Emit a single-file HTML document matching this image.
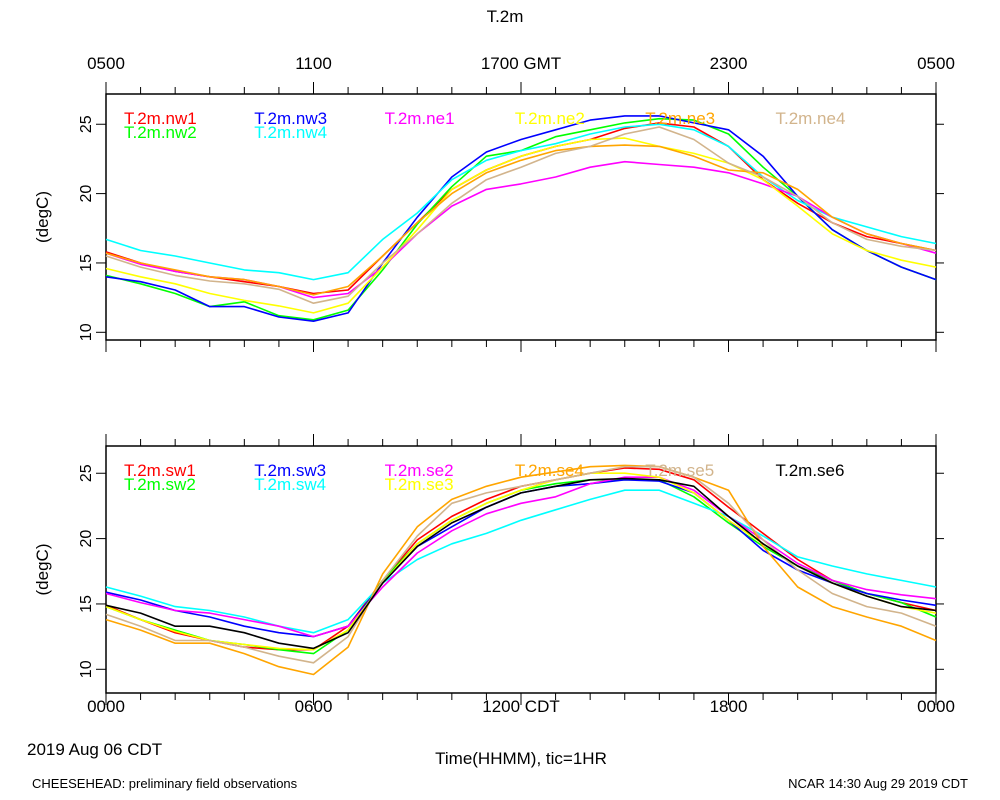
<!DOCTYPE html>
<html><head><meta charset="utf-8"><style>
body{margin:0;background:#fff;}
svg{display:block;font-family:"Liberation Sans",sans-serif;}
</style></head><body>
<svg id="chart" width="1000" height="800"></svg>
<script>
const hours=[0,1,2,3,4,5,6,7,8,9,10,11,12,13,14,15,16,17,18,19,20,21,22,23,24];
const topNames=["T.2m.nw1","T.2m.nw2","T.2m.nw3","T.2m.nw4","T.2m.ne1","T.2m.ne2","T.2m.ne3","T.2m.ne4"];
const nw1=[15.8,15.0,14.4,14.0,13.65,13.3,12.8,13.05,15.5,17.9,20.3,21.7,22.7,23.4,23.9,24.7,25.1,24.8,23.4,21.0,19.3,17.9,16.9,16.4,15.9];
const nw2=[14.1,13.5,12.8,11.85,12.2,11.2,10.9,11.6,14.5,17.8,20.5,22.7,23.1,24.1,24.6,25.1,25.4,25.3,24.3,21.9,19.8,17.4,15.9,14.7,13.8];
const nw3=[14.0,13.65,13.05,11.85,11.85,11.1,10.8,11.4,15.0,18.3,21.2,23.0,23.9,24.6,25.3,25.6,25.6,25.1,24.6,22.7,19.8,17.4,15.9,14.7,13.8];
const nw4=[16.7,15.9,15.5,15.0,14.5,14.3,13.8,14.3,16.7,18.6,21.0,22.4,23.1,23.6,24.3,24.8,25.0,24.6,23.4,21.2,19.5,18.3,17.6,16.9,16.4];
const ne1=[15.7,14.9,14.4,14.0,13.8,13.3,12.5,12.8,14.7,17.1,19.1,20.3,20.7,21.2,21.9,22.3,22.1,21.9,21.5,20.7,19.8,18.3,17.1,16.4,15.7];
const ne2=[14.6,14.0,13.5,12.8,12.3,11.9,11.4,12.1,14.7,17.4,20.3,21.7,22.7,23.4,23.9,24.0,23.4,22.9,22.2,21.0,19.1,17.1,15.9,15.2,14.7];
const ne3=[15.7,15.0,14.5,14.0,13.8,13.3,12.7,13.3,15.5,17.9,20.0,21.5,22.4,23.1,23.4,23.5,23.4,22.7,21.7,21.5,20.3,18.3,17.1,16.4,15.9];
const ne4=[15.5,14.7,14.1,13.7,13.5,13.1,12.1,12.6,15.0,17.1,19.3,21.0,21.9,22.9,23.4,24.3,24.8,23.9,22.2,21.2,19.8,17.9,16.7,16.2,15.9];
const botNames=["T.2m.sw1","T.2m.sw2","T.2m.sw3","T.2m.sw4","T.2m.se2","T.2m.se3","T.2m.se4","T.2m.se5","T.2m.se6"];
const sw1=[14.9,13.8,12.8,12.2,11.7,11.5,11.5,13.3,16.8,19.9,21.7,23.0,24.0,24.5,25.0,25.4,25.3,24.5,22.4,20.4,18.4,16.8,15.8,15.1,14.5];
const sw2=[14.8,13.8,13.0,12.2,11.9,11.5,11.2,13.0,16.8,19.6,21.4,22.7,23.7,24.2,24.5,24.5,24.5,23.2,21.2,19.4,17.9,16.8,15.8,15.1,14.0];
const sw3=[15.9,15.3,14.5,14.0,13.3,12.8,12.5,13.3,16.6,19.4,20.9,22.4,23.5,24.0,24.2,24.5,24.4,23.5,21.4,19.1,17.6,16.6,15.8,15.3,14.9];
const sw4=[16.3,15.6,14.8,14.5,14.0,13.3,12.8,13.8,16.6,18.4,19.6,20.4,21.4,22.2,23.0,23.7,23.7,22.7,21.7,20.2,18.6,17.9,17.3,16.8,16.3];
const se2=[15.8,15.1,14.5,14.3,13.8,13.3,12.5,13.3,16.3,18.9,20.6,21.9,22.7,23.2,24.2,24.7,24.7,23.7,21.7,19.9,18.1,16.8,16.1,15.7,15.4];
const se3=[14.8,13.8,12.9,12.2,11.9,11.6,11.5,13.0,16.6,19.6,21.4,22.7,23.7,24.5,25.0,25.0,24.7,23.5,21.4,19.6,17.9,16.6,15.6,14.8,14.3];
const se4=[13.8,13.0,12.0,12.0,11.2,10.2,9.6,11.7,17.3,20.9,23.0,24.0,24.7,25.1,25.5,25.6,25.5,24.7,23.7,19.4,16.3,14.8,14.0,13.3,12.2];
const se5=[14.2,13.3,12.2,12.2,11.7,11.0,10.5,12.5,16.8,20.2,22.7,23.5,24.0,24.5,25.0,25.5,25.5,24.7,22.7,19.9,17.6,15.8,14.8,14.3,13.3];
const se6=[14.9,14.3,13.3,13.3,12.8,12.0,11.6,12.8,16.6,19.4,21.2,22.4,23.5,24.0,24.5,24.6,24.5,24.0,21.7,19.6,17.9,16.6,15.6,14.8,14.5];
const yTicks=[10,15,20,25];
const topXLabels=["0500","1100","1700 GMT","2300","0500"];
const botXLabels=["0000","0600","1200 CDT","1800","0000"];

const NS="http://www.w3.org/2000/svg";
const svg=document.getElementById('chart');
function el(tag,attrs,parent){const e=document.createElementNS(NS,tag);for(const k in attrs)e.setAttribute(k,attrs[k]);(parent||svg).appendChild(e);return e;}
function txt(s,x,y,size,fill,anchor,parent){const t=el('text',{x:x,y:y,'font-size':size,fill:fill,'text-anchor':anchor||'start'},parent);t.textContent=s;return t;}
const X0=106,X1=936;
function xs(h){return X0+(X1-X0)*h/24;}

function panel(name,top,bot,y10,pxPerUnit,series,names,colors,xlabels,labelTop){
  const g=el('g',{});
  
  
  const ys=v=>y10-(v-10)*pxPerUnit;
  const frame=el('rect',{x:X0,y:top,width:X1-X0,height:bot-top,fill:'none',stroke:'#000','stroke-width':1.5},g);
  
  
  for(let h=0;h<=24;h++){
    const L=(h%6===0)?12:7,x=xs(h);
    el('line',{x1:x,y1:top,x2:x,y2:top-L,stroke:'#000'},g);
    el('line',{x1:x,y1:bot,x2:x,y2:bot+L,stroke:'#000'},g);
  }
  yTicks.forEach(v=>{
    const y=ys(v);
    el('line',{x1:X0,y1:y,x2:X0-10,y2:y,stroke:'#000'},g);
    el('line',{x1:X1,y1:y,x2:X1+8,y2:y,stroke:'#000'},g);
    const t=txt(String(v),85,y+6,16,'#000','middle',g);
    t.setAttribute('transform','rotate(-90 85 '+y+')');
    
    
  });
  const yl=txt('(degC)',48,(top+bot)/2,17,'#000','middle',g);
  yl.setAttribute('transform','rotate(-90 48 '+(top+bot)/2+')');
  
  
  xlabels.forEach((s,i)=>{
    const t=txt(s,xs(i*6),labelTop,17,'#000','middle',g);
    
    
  });
  series.forEach((d,i)=>{
    const pts=d.map((v,j)=>xs(hours[j]).toFixed(1)+','+ys(v).toFixed(1)).join(' ');
    const p=el('polyline',{points:pts,fill:'none',stroke:colors[i],'stroke-width':1.6,'stroke-linejoin':'round'},g);
    
    
  });
  names.forEach((n,i)=>{
    let col,row;
    if(names.length===9){const pos=[[0,0],[0,1],[1,0],[1,1],[2,0],[2,1],[3,0],[4,0],[5,0]];col=pos[i][0];row=pos[i][1];}
    else{const pos=[[0,0],[0,1],[1,0],[1,1],[2,0],[3,0],[4,0],[5,0]];col=pos[i][0];row=pos[i][1];}
    const t=txt(n,124+col*130.3,top+30+row*14,17,colors[i],'start',g);
    
    
  });
}
panel('top-panel',94,340,332.3,13.87,[nw1,nw2,nw3,nw4,ne1,ne2,ne3,ne4],topNames,
 ['#ff0000','#00ff00','#0000ff','#00ffff','#ff00ff','#ffff00','#ffa500','#d2b48c'],topXLabels,69);
panel('bottom-panel',446,693,669.3,13.07,[sw1,sw2,sw3,sw4,se2,se3,se4,se5,se6],botNames,
 ['#ff0000','#00ff00','#0000ff','#00ffff','#ff00ff','#ffff00','#ffa500','#d2b48c','#000000'],botXLabels,712);

const title=txt('T.2m',505,22,17,'#000','middle');


const d=txt('2019 Aug 06 CDT',27,755,17,'#000','start');


const xt=txt('Time(HHMM), tic=1HR',521,764,17,'#000','middle');


const f1=txt('CHEESEHEAD: preliminary field observations',32,788,13,'#000','start');


const f2=txt('NCAR 14:30 Aug 29 2019 CDT',968,788,13,'#000','end');


</script>
</body></html>
